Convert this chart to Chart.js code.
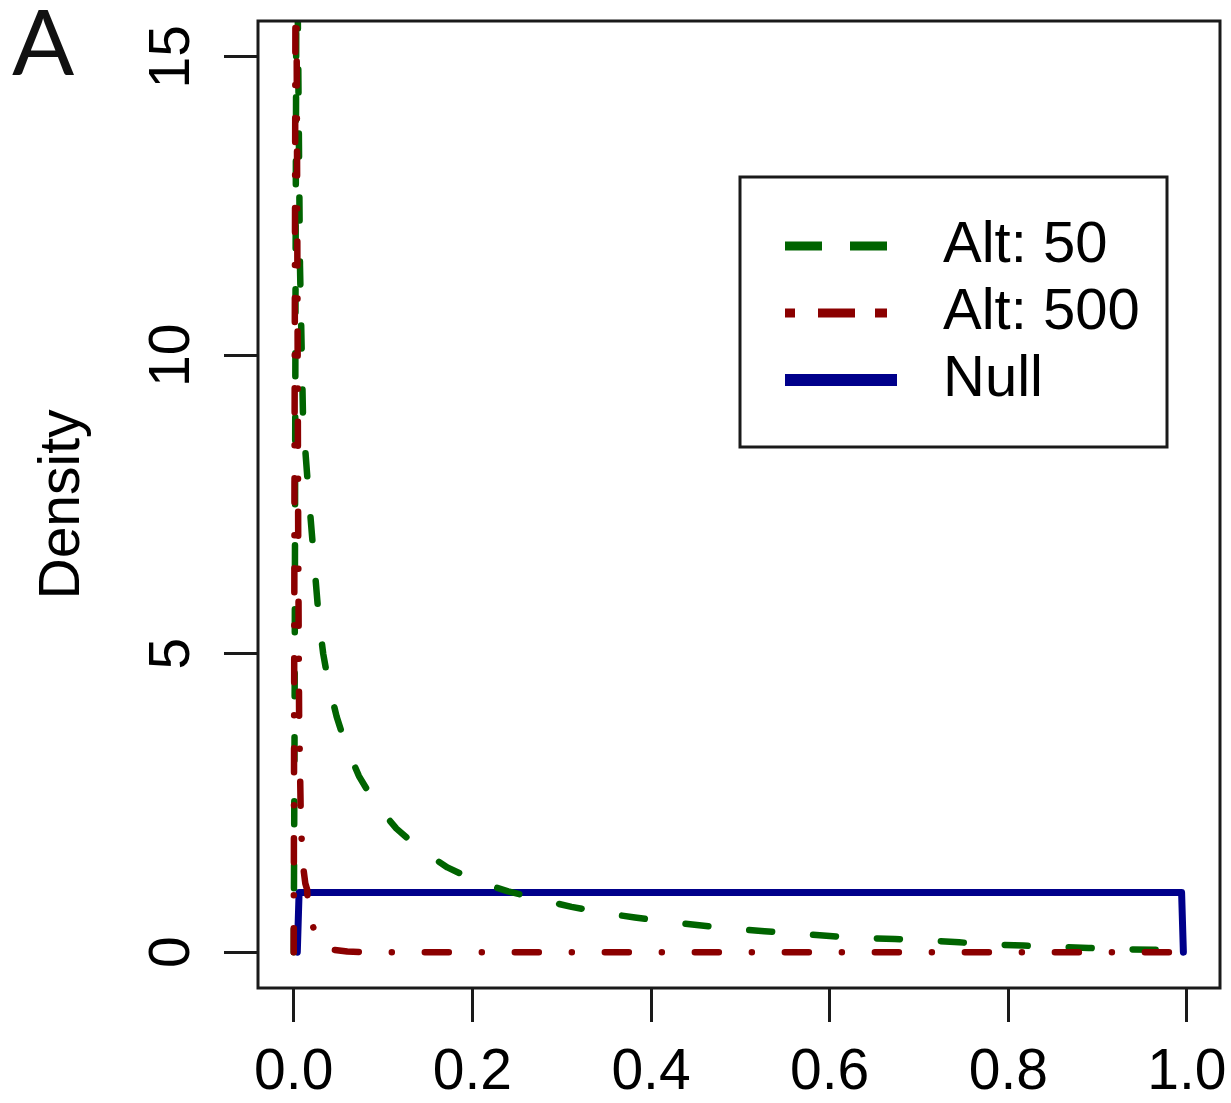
<!DOCTYPE html>
<html>
<head>
<meta charset="utf-8">
<title>Density</title>
<script src="https://cdn.jsdelivr.net/npm/chart.js@4.4.1/dist/chart.umd.min.js"></script>
<style>
  html, body { margin: 0; padding: 0; background: #fff; }
  #wrap { width: 1231px; height: 1103px; }
</style>
</head>
<body>
<div id="wrap"><canvas id="density-chart" width="1231" height="1103"></canvas></div>
<script>
// Estimated densities of the three p-value distributions
const alt50X = [0, 0.001, 0.002, 0.003, 0.004, 0.005, 0.007, 0.0105, 0.016, 0.022, 0.028, 0.033, 0.039, 0.048,
  0.058, 0.073, 0.091, 0.115, 0.142, 0.172, 0.206, 0.24, 0.276, 0.311, 0.346, 0.382, 0.418, 0.454, 0.49,
  0.527, 0.563, 0.6, 0.636, 0.673, 0.709, 0.745, 0.782, 0.817, 0.854, 0.89, 0.927, 0.963, 0.996];
const alt50Y = [0, 4, 11, 16.5, 16.5, 15, 11.5, 8.9, 7.8, 6.7, 5.6, 5.0, 4.5, 3.95,
  3.48, 2.95, 2.5, 2.07, 1.72, 1.42, 1.18, 1.02, 0.88, 0.76, 0.66, 0.58, 0.51, 0.45, 0.4,
  0.35, 0.31, 0.27, 0.24, 0.22, 0.2, 0.165, 0.13, 0.11, 0.09, 0.07, 0.05, 0.04, 0.03];

const alt500X = [0, 0.001, 0.002, 0.003, 0.004, 0.005, 0.006, 0.008, 0.01, 0.013, 0.015, 0.016, 0.019,
  0.024, 0.028, 0.035, 0.045, 0.06, 0.08, 0.996];
const alt500Y = [0, 9, 16.5, 16.5, 12, 7, 4, 2.2, 1.5, 1.15, 1.05, 0.75, 0.55,
  0.32, 0.22, 0.1, 0.04, 0.01, 0, 0];

const nullX = [0.004, 0.006, 0.994, 0.996];
const nullY = [0, 1, 1, 0];

const seriesLabels = ['Alt: 50', 'Alt: 500', 'Null'];
const xTicks = [0, 0.2, 0.4, 0.6, 0.8, 1.0];
const yTicks = [0, 5, 10, 15];

const W = 1231, H = 1103;
const PLOT = { left: 258, top: 21, right: 1220, bottom: 988 };
const axisFont = { family: "'Liberation Sans', Arial, sans-serif", size: 57 };
const ink = '#1a1a1a';

const toPoints = (xs, ys) => xs.map((x, i) => ({ x, y: ys[i] }));

// legend samples are drawn a little heavier than the curves
const legendSamples = [
  { dash: [37, 28], width: 9, len: 102 },
  { dash: [10, 23, 37, 20, 12, 60], width: 9, len: 102 },
  { dash: [], width: 12, len: 112 }
];

// R-style frame, boxed legend and panel letter
const framePlugin = {
  id: 'framePlugin',
  afterDraw(chart) {
    const { ctx, chartArea: a } = chart;
    ctx.save();
    ctx.strokeStyle = ink;
    ctx.lineWidth = 3;
    ctx.strokeRect(a.left, a.top, a.right - a.left, a.bottom - a.top);

    const bx = a.left + 482, by = a.top + 156;
    ctx.strokeRect(bx, by, 427, 270);
    ctx.font = "58px 'Liberation Sans', Arial, sans-serif";
    ctx.textBaseline = 'middle';
    ctx.textAlign = 'left';
    chart.data.datasets.forEach((ds, i) => {
      const s = legendSamples[i];
      const ry = by + 69 + i * 67;
      ctx.save();
      ctx.strokeStyle = ds.borderColor;
      ctx.lineWidth = s.width;
      ctx.lineCap = 'butt';
      ctx.setLineDash(s.dash);
      ctx.beginPath();
      ctx.moveTo(bx + 45, ry);
      ctx.lineTo(bx + 45 + s.len, ry);
      ctx.stroke();
      ctx.restore();
      ctx.fillStyle = '#000';
      ctx.fillText(ds.label, bx + 203, ry);
    });

    ctx.fillStyle = '#111';
    ctx.textBaseline = 'alphabetic';
    ctx.font = '92px Lato, sans-serif';
    ctx.fillText('A', 12, 75);
    ctx.restore();
  }
};

const tickGrid = { drawOnChartArea: false, drawTicks: true, tickLength: 34, lineWidth: 3, color: ink };

new Chart(document.getElementById('density-chart'), {
  type: 'line',
  data: {
    datasets: [
      {
        label: seriesLabels[0],
        data: toPoints(alt50X, alt50Y),
        borderColor: '#006400',
        borderWidth: 6.5,
        borderDash: [23, 41],
        order: 1
      },
      {
        label: seriesLabels[1],
        data: toPoints(alt500X, alt500Y),
        borderColor: '#8b0000',
        borderWidth: 6.5,
        borderDash: [24, 33, 0.01, 33],
        order: 0
      },
      {
        label: seriesLabels[2],
        data: toPoints(nullX, nullY),
        borderColor: '#00008b',
        borderWidth: 7,
        order: 2
      }
    ]
  },
  options: {
    responsive: false,
    animation: false,
    devicePixelRatio: 1,
    events: [],
    layout: { padding: { left: 0, top: PLOT.top, right: W - PLOT.right, bottom: 0 } },
    elements: {
      point: { radius: 0 },
      line: { tension: 0, fill: false, borderCapStyle: 'round', borderJoinStyle: 'round' }
    },
    plugins: { legend: { display: false }, tooltip: { enabled: false } },
    scales: {
      x: {
        type: 'linear',
        min: -0.04,
        max: 1.037,
        afterBuildTicks: s => { s.ticks = xTicks.map(v => ({ value: v })); },
        afterFit: s => {
          s.height = H - PLOT.bottom;
          s.paddingLeft = 0;
          s.paddingRight = 0;
        },
        grid: tickGrid,
        border: { display: false },
        ticks: { font: axisFont, color: '#000', padding: 17, maxRotation: 0, autoSkip: false,
          callback: v => v.toFixed(1) }
      },
      y: {
        type: 'linear',
        min: -0.6,
        max: 15.6,
        afterBuildTicks: s => { s.ticks = yTicks.map(v => ({ value: v })); },
        afterFit: s => {
          s.width = PLOT.left;
          s.paddingTop = 0;
          s.paddingBottom = 0;
        },
        grid: tickGrid,
        border: { display: false },
        title: { display: true, text: 'Density', font: axisFont, color: '#000', padding: { top: 29, bottom: 0 } },
        ticks: { font: axisFont, color: '#000', padding: 19, minRotation: 90, maxRotation: 90,
          crossAlign: 'center', autoSkip: false, callback: v => String(v) }
      }
    }
  },
  plugins: [framePlugin]
});
</script>
</body>
</html>
